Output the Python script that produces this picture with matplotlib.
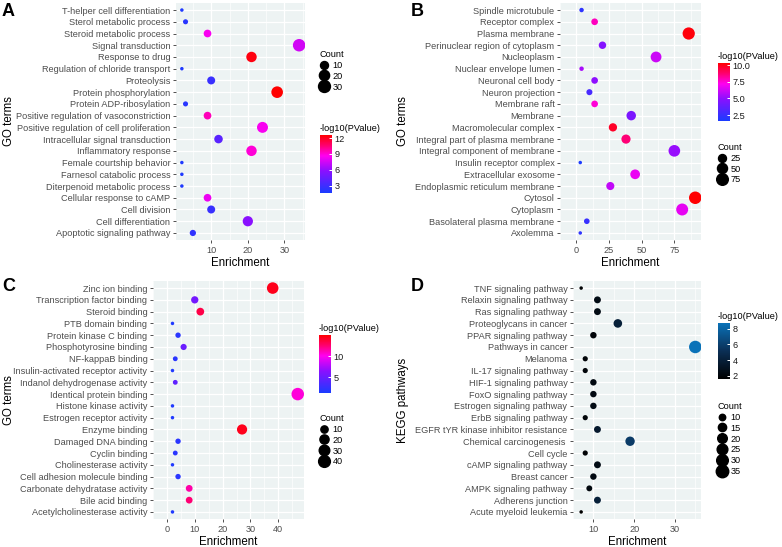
import numpy as np
import matplotlib.pyplot as plt
from matplotlib.colors import LinearSegmentedColormap, Normalize
from matplotlib.lines import Line2D

plt.rcParams['font.family'] = ['Liberation Sans', 'DejaVu Sans']

# ---- panel A: GO biological process ----
terms_a = ["T-helper cell differentiation", "Sterol metabolic process", "Steroid metabolic process",
           "Signal transduction", "Response to drug", "Regulation of chloride transport",
           "Proteolysis", "Protein phosphorylation", "Protein ADP-ribosylation",
           "Positive regulation of vasoconstriction", "Positive regulation of cell proliferation",
           "Intracellular signal transduction", "Inflammatory response", "Female courtship behavior",
           "Farnesol catabolic process", "Diterpenoid metabolic process", "Cellular response to cAMP",
           "Cell division", "Cell differentiation", "Apoptotic signaling pathway"]
enrich_a = [2, 3, 9, 34, 21, 2, 10, 28, 3, 9, 24, 12, 21, 2, 2, 2, 9, 10, 20, 5]
count_a = [2, 3, 9, 34, 21, 2, 10, 28, 3, 9, 24, 12, 21, 2, 2, 2, 9, 10, 20, 5]
logp_a = [1.8, 2.2, 8.5, 7.5, 12.3, 1.8, 2.8, 12.6, 2.2, 9.5, 8.5, 4.0, 9.0, 1.8, 1.8, 1.8, 8.2, 2.8, 5.8, 2.5]

# ---- panel B: GO cellular component ----
terms_b = ["Spindle microtubule", "Receptor complex", "Plasma membrane", "Perinuclear region of cytoplasm",
           "Nucleoplasm", "Nuclear envelope lumen", "Neuronal cell body", "Neuron projection",
           "Membrane raft", "Membrane", "Macromolecular complex", "Integral part of plasma membrane",
           "Integral component of membrane", "Insulin receptor complex", "Extracellular exosome",
           "Endoplasmic reticulum membrane", "Cytosol", "Cytoplasm", "Basolateral plasma membrane",
           "Axolemma"]
enrich_b = [4, 14, 86, 20, 61, 4, 14, 10, 14, 42, 28, 38, 75, 3, 45, 26, 91, 81, 8, 3]
count_b = [4, 14, 86, 20, 61, 4, 14, 10, 14, 42, 28, 38, 75, 3, 45, 26, 91, 81, 8, 3]
logp_b = [2.2, 7.8, 10.2, 4.8, 6.2, 5.5, 5.0, 3.0, 7.5, 4.5, 9.8, 8.7, 5.2, 1.7, 6.8, 6.0, 10.3, 6.7, 2.5, 2.2]

# ---- panel C: GO molecular function ----
terms_c = ["Zinc ion binding", "Transcription factor binding", "Steroid binding", "PTB domain binding",
           "Protein kinase C binding", "Phosphotyrosine binding", "NF-kappaB binding",
           "Insulin-activated receptor activity", "Indanol dehydrogenase activity",
           "Identical protein binding", "Histone kinase activity", "Estrogen receptor activity",
           "Enzyme binding", "Damaged DNA binding", "Cyclin binding", "Cholinesterase activity",
           "Cell adhesion molecule binding", "Carbonate dehydratase activity", "Bile acid binding",
           "Acetylcholinesterase activity"]
enrich_c = [38, 10, 12, 2, 4, 6, 3, 2, 3, 47, 2, 2, 27, 4, 3, 2, 4, 8, 8, 2]
count_c = [38, 10, 12, 2, 4, 6, 3, 2, 3, 47, 2, 2, 27, 4, 3, 2, 4, 8, 8, 2]
logp_c = [14.5, 5.5, 13.5, 1.5, 2.0, 5.0, 2.0, 1.5, 4.5, 10.5, 1.5, 1.5, 14.5, 2.0, 2.0, 1.5, 2.0, 11.5, 12.5, 1.5]

# ---- panel D: KEGG pathways ----
terms_d = ["TNF signaling pathway", "Relaxin signaling pathway", "Ras signaling pathway",
           "Proteoglycans in cancer", "PPAR signaling pathway", "Pathways in cancer", "Melanoma",
           "IL-17 signaling pathway", "HIF-1 signaling pathway", "FoxO signaling pathway",
           "Estrogen signaling pathway", "ErbB signaling pathway",
           "EGFR tYR kinase inhibitor resistance", "Chemical carcinogenesis ", "Cell cycle",
           "cAMP signaling pathway", "Breast cancer", "AMPK signaling pathway", "Adherens junction",
           "Acute myeloid leukemia"]
enrich_d = [7, 11, 11, 16, 10, 35, 8, 8, 10, 10, 10, 8, 11, 19, 8, 11, 10, 9, 11, 7]
count_d = [7, 11, 11, 16, 10, 35, 8, 8, 10, 10, 10, 8, 11, 19, 8, 11, 10, 9, 11, 7]
logp_d = [1.8, 2.5, 2.5, 4.0, 2.0, 8.7, 2.0, 2.0, 2.3, 2.3, 2.5, 2.0, 3.5, 5.8, 1.8, 2.5, 2.3, 2.2, 4.0, 1.6]

W, H = 782, 547
fig = plt.figure(figsize=(W / 100, H / 100), dpi=100)

br = LinearSegmentedColormap.from_list("br", [(0, "#1a3cff"), (0.38, "#8a10ff"), (0.64, "#ff00f0"),
                                              (0.82, "#ff0070"), (1, "#ff0000")])
bk = LinearSegmentedColormap.from_list("bk", ["#000000", "#0b2f55", "#0a72b8"])

TICK_COL = "#4d4d4d"
FS = 6.6
TITLE_FS = 8.3


def px_rect(x0, y0, x1, y1):
    return [x0 / W, 1 - y1 / H, (x1 - x0) / W, (y1 - y0) / H]


def diam(c, cmin, cmax):
    t = (np.asarray(c, float) - cmin) / (cmax - cmin)
    return 3.5 + 9.0 * np.sqrt(t)


def panel(rect, terms, xs, counts, logp, cmap, vlim, xticks, ylabel, ylab_x, letter, letter_xy,
          cbar_rect, cbar_ticks, cbar_fmt, cnt_ticks, cnt_xy):
    ax = fig.add_axes(px_rect(*rect))
    ax.set_facecolor("#edf3f3")
    n = len(terms)
    ys = np.arange(n)[::-1]
    cmin, cmax = min(counts), max(counts)
    d = diam(counts, cmin, cmax)
    sc = ax.scatter(xs, ys, s=(d * 0.72) ** 2, c=logp, cmap=cmap,
                    norm=Normalize(*vlim), linewidths=0, zorder=3)
    ax.set_yticks(ys)
    ax.set_yticklabels(terms)
    ax.set_ylim(-0.6, n - 0.4)
    lo, hi = min(xs), max(xs)
    pad = 0.05 * (hi - lo)
    ax.set_xlim(lo - pad, hi + pad)
    step = xticks[1] - xticks[0]
    ax.set_xticks(xticks)
    ax.set_xticks([t - step / 2 for t in xticks] + [xticks[-1] + step / 2], minor=True)
    ax.set_yticks([], minor=True)
    ax.grid(True, which="major", color="white", lw=0.9, zorder=0)
    ax.grid(True, which="minor", axis="x", color="white", lw=0.45, zorder=0)
    for s in ax.spines.values():
        s.set_visible(False)
    ax.tick_params(axis="both", which="major", labelsize=FS, labelcolor=TICK_COL,
                   color="#333333", length=2.5, width=0.6, pad=1.5)
    ax.tick_params(axis="x", which="minor", length=0)
    ax.set_axisbelow(True)
    ax.set_xlabel("Enrichment", fontsize=TITLE_FS, labelpad=1.5)
    ax.set_ylabel(ylabel, fontsize=TITLE_FS)
    ax.yaxis.set_label_coords((ylab_x - rect[0]) / (rect[2] - rect[0]), 0.5)
    fig.text(letter_xy[0] / W, 1 - letter_xy[1] / H, letter, fontsize=13, fontweight="bold",
             ha="left", va="top")

    cax = fig.add_axes(px_rect(*cbar_rect))
    cb = fig.colorbar(sc, cax=cax, ticks=cbar_ticks)
    cb.outline.set_visible(False)
    cb.ax.set_yticklabels([cbar_fmt.format(t) for t in cbar_ticks])
    cb.ax.tick_params(labelsize=FS, labelcolor="#1a1a1a", color="white", length=2.5,
                      width=0.7, direction="in", pad=2)
    cax.set_title("-log10(PValue)", loc="left", fontsize=FS, pad=3, x=-0.05)

    handles = [Line2D([], [], ls="", marker="o", color="black",
                      markersize=float(diam(c, cmin, cmax)) * 0.72) for c in cnt_ticks]
    fig.legend(handles, [str(c) for c in cnt_ticks], title="Count", frameon=False,
               loc="upper left", bbox_to_anchor=(cnt_xy[0] / W, 1 - cnt_xy[1] / H),
               fontsize=FS, title_fontsize=FS, alignment="left", handlelength=0.9,
               handletextpad=0.5, labelspacing=0.2, borderpad=0, borderaxespad=0)
    return ax


panel((176, 3, 305, 240), terms_a, enrich_a, count_a, logp_a, br, (1.6, 12.6), [10, 20, 30],
      "GO terms", 15, "A", (2, 3), (320, 135, 332, 193), [3, 6, 9, 12], "{:g}", [10, 20, 30],
      (320, 50))
panel((560, 3, 701, 240), terms_b, enrich_b, count_b, logp_b, br, (1.6, 10.35), [0, 25, 50, 75],
      "GO terms", 409, "B", (411, 3), (718, 63, 730, 121), [2.5, 5.0, 7.5, 10.0], "{:.1f}",
      [25, 50, 75], (718, 143))
panel((153, 281, 304, 519), terms_c, enrich_c, count_c, logp_c, br, (1.2, 15.1), [0, 10, 20, 30, 40],
      "GO terms", 15, "C", (2, 278), (319, 335, 331, 393), [5, 10], "{:g}", [10, 20, 30, 40],
      (320, 414))
panel((573, 281, 701, 519), terms_d, enrich_d, count_d, logp_d, bk, (1.6, 8.7), [10, 20, 30],
      "KEGG pathways", 409, "D", (411, 278), (718, 323, 730, 379), [2, 4, 6, 8], "{:g}",
      [10, 15, 20, 25, 30, 35], (718, 402))

fig.savefig("out.png", dpi=100)
